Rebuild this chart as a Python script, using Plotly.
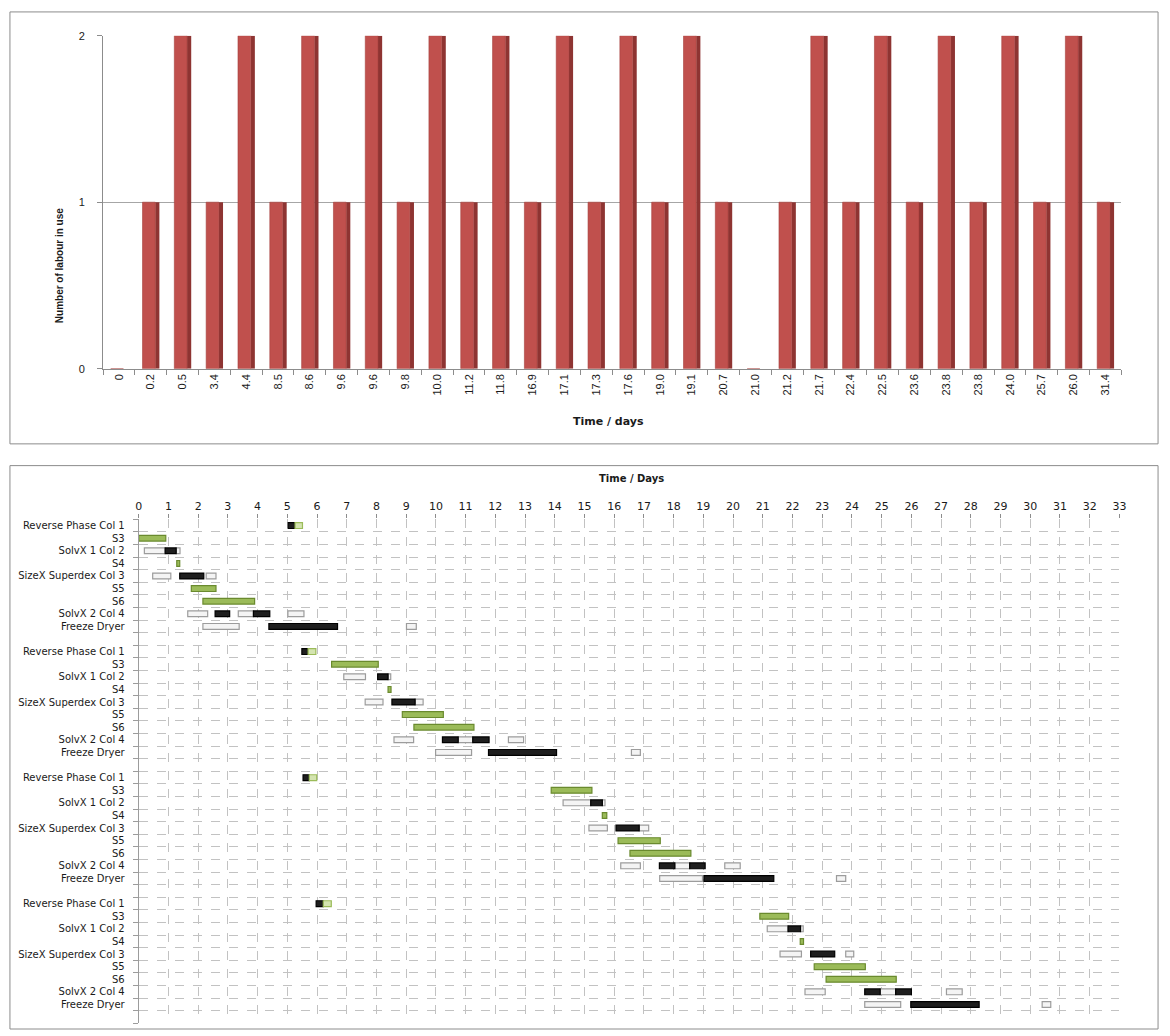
import plotly.graph_objects as go

W, H = 1170, 1036

# ---------------- data: top chart ----------------
time_labels = ["0", "0.2", "0.5", "3.4", "4.4", "8.5", "8.6", "9.6", "9.6", "9.8",
               "10.0", "11.2", "11.8", "16.9", "17.1", "17.3", "17.6", "19.0", "19.1",
               "20.7", "21.0", "21.2", "21.7", "22.4", "22.5", "23.6", "23.8", "23.8",
               "24.0", "25.7", "26.0", "31.4"]
labour_in_use = [0, 1, 2, 1, 2, 1, 2, 1, 2, 1, 2, 1, 2, 1, 2, 1, 2, 1, 2, 1,
                 0, 1, 2, 1, 2, 1, 2, 1, 2, 1, 2, 1]

# ---------------- data: gantt chart ----------------
step_labels = ["Reverse Phase Col 1", "S3", "SolvX 1 Col 2", "S4", "SizeX Superdex Col 3",
               "S5", "S6", "SolvX 2 Col 4", "Freeze Dryer"]
n_batches = 4
day_ticks = list(range(0, 34))

# (batch, step, start day, end day)
green_tasks = [
    (0, 1, 0.00, 0.91), (0, 3, 1.28, 1.38), (0, 5, 1.77, 2.60), (0, 6, 2.16, 3.90),
    (1, 1, 6.49, 8.06), (1, 3, 8.39, 8.49), (1, 5, 8.87, 10.25), (1, 6, 9.26, 11.28),
    (2, 1, 13.88, 15.25), (2, 3, 15.60, 15.75), (2, 5, 16.13, 17.55), (2, 6, 16.53, 18.58),
    (3, 1, 20.90, 21.87), (3, 3, 22.26, 22.37), (3, 5, 22.73, 24.45), (3, 6, 23.13, 25.49),
]
light_tasks = [
    (0, 0, 5.26, 5.51), (1, 0, 5.70, 5.96), (2, 0, 5.74, 5.99), (3, 0, 6.21, 6.48),
]
black_tasks = [
    (0, 0, 5.03, 5.26), (0, 2, 0.89, 1.26), (0, 4, 1.38, 2.19), (0, 7, 2.57, 3.06),
    (0, 7, 3.86, 4.41), (0, 8, 4.38, 6.69),
    (1, 0, 5.49, 5.70), (1, 2, 8.04, 8.39), (1, 4, 8.52, 9.30), (1, 7, 10.22, 10.75),
    (1, 7, 11.24, 11.79), (1, 8, 11.77, 14.06),
    (2, 0, 5.53, 5.74), (2, 2, 15.21, 15.60), (2, 4, 16.06, 16.84), (2, 7, 17.52, 18.04),
    (2, 7, 18.54, 19.06), (2, 8, 19.02, 21.37),
    (3, 0, 5.97, 6.21), (3, 2, 21.85, 22.27), (3, 4, 22.61, 23.42), (3, 7, 24.43, 24.95),
    (3, 7, 25.47, 26.00), (3, 8, 25.98, 28.28),
]
white_tasks = [
    (0, 2, 0.19, 0.89), (0, 2, 1.26, 1.39), (0, 4, 0.47, 1.08), (0, 4, 2.27, 2.60),
    (0, 7, 1.65, 2.32), (0, 7, 3.35, 3.86), (0, 7, 5.02, 5.56), (0, 8, 2.16, 3.38),
    (0, 8, 9.01, 9.34),
    (1, 2, 6.90, 7.63), (1, 2, 8.39, 8.48), (1, 4, 7.62, 8.22), (1, 4, 9.30, 9.57),
    (1, 7, 8.59, 9.25), (1, 7, 10.75, 11.24), (1, 7, 12.44, 12.95), (1, 8, 9.99, 11.20),
    (1, 8, 16.58, 16.88),
    (2, 2, 14.28, 15.21), (2, 2, 15.60, 15.69), (2, 4, 15.15, 15.77), (2, 4, 16.84, 17.16),
    (2, 7, 16.22, 16.88), (2, 7, 18.04, 18.54), (2, 7, 19.72, 20.24), (2, 8, 17.53, 18.97),
    (2, 8, 23.48, 23.79),
    (3, 2, 21.15, 21.85), (3, 2, 22.27, 22.36), (3, 4, 21.58, 22.30), (3, 4, 23.79, 24.06),
    (3, 7, 22.42, 23.10), (3, 7, 24.95, 25.47), (3, 7, 27.18, 27.71), (3, 8, 24.43, 25.64),
    (3, 8, 30.40, 30.69),
]

rows_per_batch = len(step_labels) + 1  # one empty separator row
n_rows = n_batches * rows_per_batch
row_text = [step_labels[r % rows_per_batch] if r % rows_per_batch < len(step_labels) else ""
            for r in range(n_rows)]


def px_x(p):
    return p / W


def px_y(p):
    return 1 - p / H


fig = go.Figure()

# ---------------- top chart traces ----------------
idx = list(range(len(time_labels)))
fig.add_trace(go.Bar(x=idx, y=labour_in_use, width=0.13, offset=0.14,
                     marker=dict(color="#8E3432", line=dict(width=0)),
                     xaxis="x", yaxis="y", showlegend=False, hoverinfo="skip"))
fig.add_trace(go.Bar(x=idx, y=labour_in_use, width=0.40, offset=-0.26,
                     marker=dict(color="#C0504D", line=dict(width=0.6, color="#A5403D")),
                     xaxis="x", yaxis="y", showlegend=False, name="Labour"))


def add_tasks(tasks, fill, edge, name):
    rows = [b * rows_per_batch + s for b, s, a, e in tasks]
    starts = [a for b, s, a, e in tasks]
    durs = [e - a for b, s, a, e in tasks]
    fig.add_trace(go.Bar(y=rows, x=durs, base=starts, orientation="h", width=0.46,
                         marker=dict(color=fill, line=dict(color=edge, width=1.2)),
                         xaxis="x2", yaxis="y2", showlegend=False, name=name))


add_tasks(white_tasks, "#F4F4F4", "#9C9C9C", "idle")
add_tasks(black_tasks, "#1E1E1E", "#000000", "labour")
add_tasks(green_tasks, "#9BBB59", "#6A8A2E", "process")
add_tasks(light_tasks, "#D4E4B0", "#9BBB59", "load")

grid_top = "#A6A6A6"
grid_gantt = "#C2C2C2"

fig.update_layout(
    width=W, height=H,
    margin=dict(l=0, r=0, t=0, b=0),
    paper_bgcolor="white", plot_bgcolor="white",
    barmode="overlay",
    font=dict(family="DejaVu Sans", color="#1A1A1A"),
    xaxis=dict(domain=[px_x(100), px_x(1128)], range=[-0.5, len(time_labels) - 0.5],
               tickmode="array", tickvals=idx, ticktext=time_labels, tickangle=-90,
               tickfont=dict(family="Liberation Sans", size=11, color="#1A1A1A"),
               ticks="", showgrid=False, zeroline=False,
               showline=True, linecolor="#8C8C8C",
               minor=dict(tickmode="linear", tick0=-0.5, dtick=1, ticks="outside",
                          ticklen=5, tickcolor="#8C8C8C", showgrid=False),
               fixedrange=True, anchor="y"),
    yaxis=dict(domain=[px_y(367), px_y(30)], range=[0, 2.0],
               tickmode="array", tickvals=[0, 1, 2], ticktext=["0", "1", "2"],
               tickfont=dict(family="Liberation Sans", size=11, color="#1A1A1A"),
               ticks="outside", ticklen=5, tickcolor="#8C8C8C", ticklabelstandoff=10,
               showgrid=True, gridcolor=grid_top, gridwidth=1, zeroline=False,
               showline=True, linecolor="#8C8C8C", anchor="x"),
    xaxis2=dict(domain=[px_x(136), px_x(1126)], range=[0, 33], side="top",
                tickmode="array", tickvals=day_ticks, ticktext=[str(d) for d in day_ticks],
                tickfont=dict(family="DejaVu Sans", size=11, color="#1A1A1A"),
                ticks="outside", ticklen=4, tickcolor="#8C8C8C",
                showgrid=True, gridcolor=grid_gantt, griddash="dash", gridwidth=1,
                zeroline=False, showline=False, anchor="y2"),
    yaxis2=dict(domain=[px_y(1029.3), px_y(519.3)], range=[n_rows - 0.5, -0.5],
                tickmode="array", tickvals=list(range(n_rows)), ticktext=row_text,
                tickfont=dict(family="DejaVu Sans", size=10, color="#1A1A1A"),
                ticks="", ticklabelstandoff=11,
                showgrid=False, zeroline=False,
                showline=True, linecolor="#9C9C9C",
                minor=dict(tickmode="linear", tick0=0.5, dtick=1, ticks="outside",
                           ticklen=5, tickcolor="#9C9C9C", showgrid=True,
                           gridcolor=grid_gantt, griddash="dash", gridwidth=1),
                anchor="x2"),
    shapes=[
        dict(type="rect", xref="paper", yref="paper", x0=px_x(6), x1=px_x(1165),
             y0=px_y(443), y1=px_y(6), line=dict(color="#8C8C8C", width=1)),
        dict(type="rect", xref="paper", yref="paper", x0=px_x(6), x1=px_x(1165),
             y0=px_y(1035), y1=px_y(465), line=dict(color="#8C8C8C", width=1)),
    ],
    annotations=[
        dict(text="<b>Number of labour in use</b>", xref="paper", yref="paper",
             x=px_x(48), y=px_y(203), textangle=-90, showarrow=False,
             font=dict(family="Liberation Sans Narrow, Liberation Sans", size=10,
                       color="#1A1A1A")),
        dict(text="<b>Time / days</b>", xref="paper", yref="paper",
             x=px_x(610), y=px_y(420), showarrow=False,
             font=dict(family="DejaVu Sans", size=11, color="#1A1A1A")),
        dict(text="<b>Time / Days</b>", xref="paper", yref="paper",
             x=px_x(633), y=px_y(478), showarrow=False,
             font=dict(family="DejaVu Sans", size=10, color="#1A1A1A")),
    ],
)

fig.write_html("out.html",
               config={"displayModeBar": False},
               post_script="document.body.style.margin='0px';"
                           "document.body.style.overflow='hidden';")
